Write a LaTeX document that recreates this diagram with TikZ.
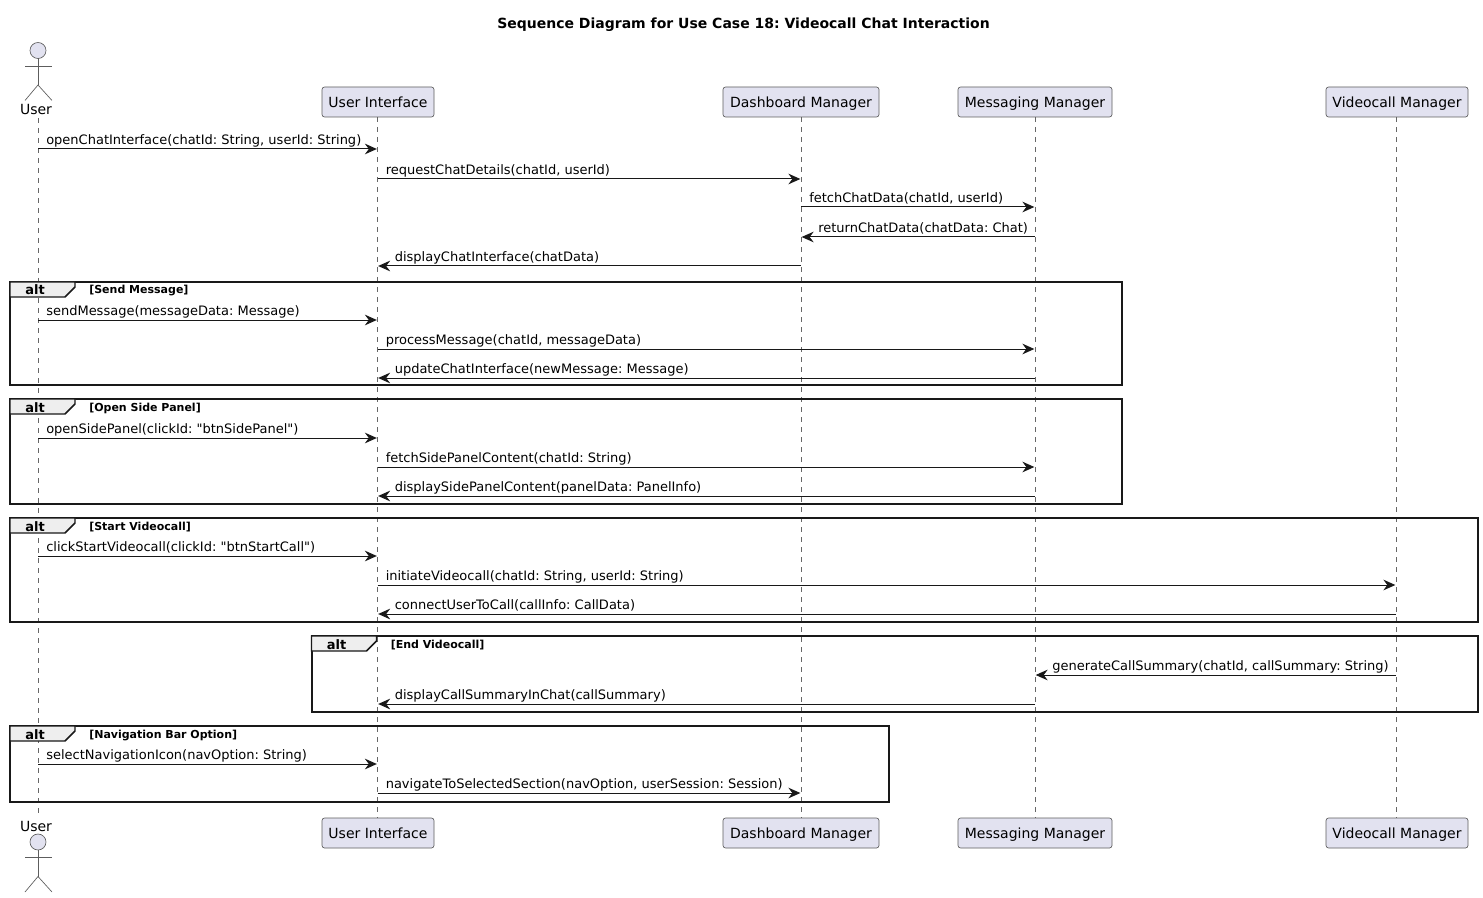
\documentclass[tikz,border=0pt]{standalone}
\usepackage{fontspec}
\setmainfont{DejaVu Sans}
\newfontfamily\djv{DejaVu Sans}
\usetikzlibrary{arrows.meta}
\definecolor{partfill}{HTML}{E2E2F0}
\definecolor{partline}{HTML}{181818}
\definecolor{lifegray}{HTML}{666666}
\definecolor{tabfill}{HTML}{EEEEEE}
\tikzset{
  px/.style={x=0.75pt,y=0.75pt},
  part/.style={draw=partline!70,line width=0.5pt,fill=partfill,rounded corners=1.9pt,anchor=center,inner sep=0pt,text height=10.2pt,text depth=2.2pt,font=\djv\fontsize{10.5}{12}\selectfont},
  actorname/.style={inner sep=0pt,anchor=base,font=\djv\fontsize{10.5}{12}\selectfont},
  life/.style={draw=lifegray,line width=0.5pt,dash pattern=on 3.75pt off 3.75pt},
  msg/.style={draw=partline,line width=0.75pt,-{Stealth[length=9pt,width=8pt,inset=3pt]},shorten >=0.5pt},
  msgtext/.style={inner sep=0pt,anchor=base west,font=\djv\fontsize{9.75}{12}\selectfont,text=black},
  frame/.style={draw=black!90,line width=1.5pt},
  tab/.style={draw=black!90,line width=1.1pt,fill=tabfill},
  alttext/.style={inner sep=0pt,anchor=base,font=\djv\bfseries\fontsize{9.75}{12}\selectfont},
  guard/.style={inner sep=0pt,anchor=base west,font=\djv\bfseries\fontsize{8.25}{10}\selectfont},
  titletext/.style={inner sep=0pt,anchor=base,font=\djv\bfseries\fontsize{10.5}{12}\selectfont},
  stick/.style={draw=partline!70,line width=0.5pt},
  stickhead/.style={draw=partline!70,line width=0.5pt,fill=partfill},
}
% name, from, to, y, label
\newcommand{\msgR}[5]{%
  \draw[msg] (#2 |- 0,-#4) -- (#3 |- 0,-#4);
  \node[msgtext] (#1) at ([xshift=6pt]#2 |- 0,-#4+4.5) {#5};}
\newcommand{\msgL}[5]{%
  \draw[msg] (#2 |- 0,-#4) -- (#3 |- 0,-#4);
  \node[msgtext] (#1) at ([xshift=12.75pt]#3 |- 0,-#4+4.5) {#5};}
% name, x1, x2, ytop, ybottom, guard
\newcommand{\altframe}[6]{%
  \draw[frame] (#2,-#4) rectangle (#3,-#5);
  \draw[tab] (#2,-#4) -- (#2+65,-#4) -- (#2+65,-#4-5) -- (#2+55,-#4-15) -- (#2,-#4-15) -- cycle;
  \node[alttext] (#1a) at (#2+25,-#4-13) {alt};
  \node[guard] (#1g) at (#2+79,-#4-12) {#6};}
% head centre y
\newcommand{\actorfig}[1]{%
  \draw[stickhead] (38,-#1) circle[radius=8];
  \draw[stick] (25,-#1-15.5) -- (52,-#1-15.5);
  \draw[stick] (25,-#1-50) -- (38,-#1-34.5) -- (52,-#1-50);
  \draw[stick] (38,-#1-8) -- (38,-#1-34.5);}
\begin{document}
\frenchspacing
\begin{tikzpicture}[px]
\useasboundingbox (0,0) rectangle (1483,-898);
\node[titletext] (title) at (743.5,-28.5) {Sequence Diagram for Use Case 18: Videocall Chat Interaction};
% lifeline anchors
\coordinate (lu0) at (38,-118);   \coordinate (lu1) at (38,-818);
\coordinate (li0) at (377.5,-117); \coordinate (li1) at (377.5,-818);
\coordinate (ld0) at (801,-117);  \coordinate (ld1) at (801,-818);
\coordinate (lm0) at (1035,-117); \coordinate (lm1) at (1035,-818);
\coordinate (lv0) at (1396,-117); \coordinate (lv1) at (1396,-818);
\draw[life] (lu0) -- (lu1);
\draw[life] (li0) -- (li1);
\draw[life] (ld0) -- (ld1);
\draw[life] (lm0) -- (lm1);
\draw[life] (lv0) -- (lv1);
% participants
\foreach \nm/\xc/\w/\t in {i/378/112/User Interface,d/801/156/Dashboard Manager,m/1035/154/Messaging Manager,v/1397/142/Videocall Manager}{
  \node[part,minimum width=\w*0.75pt,minimum height=22.5pt] (top\nm) at (\xc,-102) {\t};
  \node[part,minimum width=\w*0.75pt,minimum height=22.5pt] (bot\nm) at (\xc,-833) {\t};
}
% actors
\actorfig{50.5}
\node[actorname] (topu) at (36,-115) {User};
\actorfig{842}
\node[actorname] (botu) at (36,-831) {User};
% frames
\altframe{fa}{10}{1122}{282}{385}{[Send Message]}
\altframe{fb}{10}{1122}{399}{504}{[Open Side Panel]}
\altframe{fc}{10}{1478}{518}{622}{[Start Videocall]}
\altframe{fd}{311.5}{1478}{636}{712}{[End Videocall]}
\altframe{fe}{10}{889}{726}{802}{[Navigation Bar Option]}
% messages
\msgR{m1}{lu0}{li0}{149}{openChatInterface(chatId: String, userId: String)}
\msgR{m2}{li0}{ld0}{179}{requestChatDetails(chatId, userId)}
\msgR{m3}{ld0}{lm0}{207}{fetchChatData(chatId, userId)}
\msgL{m4}{lm0}{ld0}{237}{returnChatData(chatData: Chat)}
\msgL{m5}{ld0}{li0}{266}{displayChatInterface(chatData)}
\msgR{m6}{lu0}{li0}{320}{sendMessage(messageData: Message)}
\msgR{m7}{li0}{lm0}{349}{processMessage(chatId, messageData)}
\msgL{m8}{lm0}{li0}{378}{updateChatInterface(newMessage: Message)}
\msgR{m9}{lu0}{li0}{438}{openSidePanel(clickId: "btnSidePanel")}
\msgR{m10}{li0}{lm0}{467}{fetchSidePanelContent(chatId: String)}
\msgL{m11}{lm0}{li0}{496}{displaySidePanelContent(panelData: PanelInfo)}
\msgR{m12}{lu0}{li0}{556}{clickStartVideocall(clickId: "btnStartCall")}
\msgR{m13}{li0}{lv0}{585}{initiateVideocall(chatId: String, userId: String)}
\msgL{m14}{lv0}{li0}{614}{connectUserToCall(callInfo: CallData)}
\msgL{m15}{lv0}{lm0}{675}{generateCallSummary(chatId, callSummary: String)}
\msgL{m16}{lm0}{li0}{704}{displayCallSummaryInChat(callSummary)}
\msgR{m17}{lu0}{li0}{764}{selectNavigationIcon(navOption: String)}
\msgR{m18}{li0}{ld0}{793}{navigateToSelectedSection(navOption, userSession: Session)}
\end{tikzpicture}
\end{document}
